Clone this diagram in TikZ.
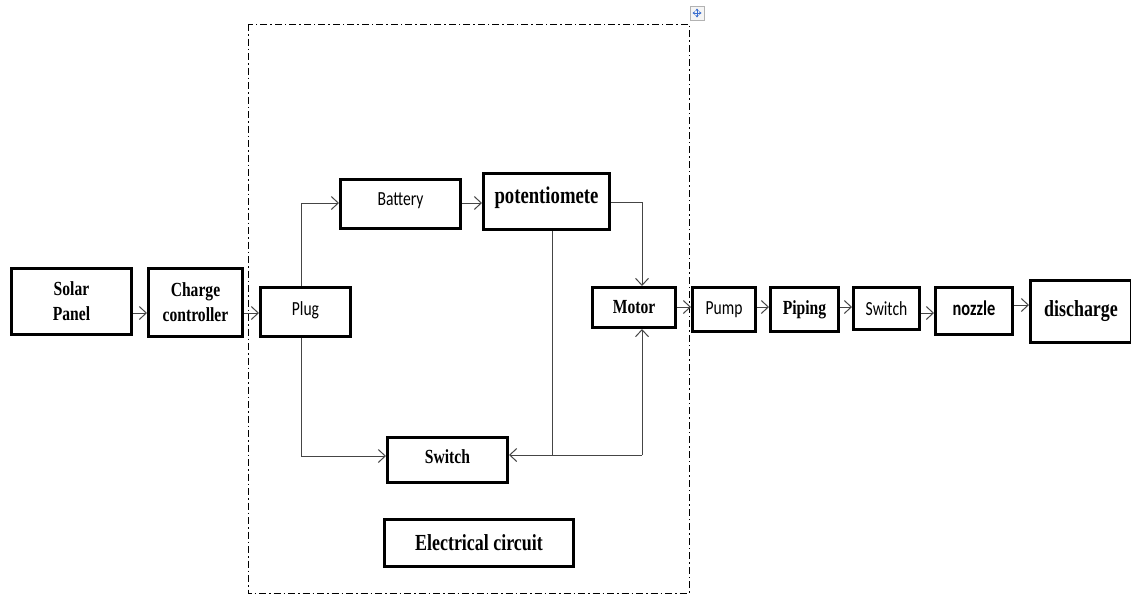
\documentclass[tikz,border=0pt]{standalone}
\usepackage{fontspec}
\usetikzlibrary{arrows.meta}
\newfontfamily\tnrfont[FakeStretch=0.78]{Liberation Serif}
\newfontfamily\calfont[FakeStretch=0.78]{Carlito}
\definecolor{linegray}{HTML}{454545}
\definecolor{iconblue}{HTML}{3B6FD0}
\tikzset{
  blk/.style={draw=black, line width=3pt, inner sep=0pt, align=center, fill=white},
  bline/.style={text height=0pt, text depth=0pt},
  serifb/.style={font=\tnrfont\bfseries\fontsize{20}{25}\selectfont},
  sansr/.style={font=\calfont\fontsize{20}{24}\selectfont},
  conn/.style={draw=linegray, line width=1pt, -{Straight Barb[length=7pt,width=13pt,line width=1pt]}},
  wire/.style={draw=linegray, line width=1pt},
  frame/.style={draw=black, line width=1pt, dash pattern=on 7pt off 3pt on 1.5pt off 3pt}
}
\begin{document}
\begin{tikzpicture}[x=1pt,y=-1pt]
\useasboundingbox (0,0) rectangle (1131,600);
% dashed frame
\draw[frame] (248,24) rectangle (689,593);
% move icon
\draw[gray!60, fill=gray!8, line width=0.6pt] (690,6) rectangle (704,20);
\draw[iconblue, line width=0.9pt, {Stealth[length=2.5pt,width=3.5pt]}-{Stealth[length=2.5pt,width=3.5pt]}] (692.5,13) -- (701.5,13);
\draw[iconblue, line width=0.9pt, {Stealth[length=2.5pt,width=3.5pt]}-{Stealth[length=2.5pt,width=3.5pt]}] (697,8.5) -- (697,17.5);
% blocks
\node[blk, serifb, minimum width=120pt, minimum height=66pt] (solar) at (71.5,301.5) {Solar\\Panel};
\node[blk, serifb, minimum width=94pt, minimum height=68pt] (charge) at (195.5,302.5) {Charge\\controller};
\node[blk, sansr, bline, minimum width=90pt, minimum height=49pt] (plug) at (305.5,312) {\raisebox{-3.5pt}{Plug}};
\node[blk, sansr, bline, minimum width=120pt, minimum height=49pt] (battery) at (400.5,204) {\raisebox{-1pt}{Battery}};
\node[blk, bline, font=\tnrfont\bfseries\fontsize{24}{28}\selectfont, minimum width=126pt, minimum height=56pt] (pot) at (546.5,201.5) {\raisebox{-1.5pt}{potentiomete}};
\node[blk, serifb, minimum width=83pt, minimum height=40pt] (motor) at (634,307.5) {Motor};
\node[blk, serifb, bline, minimum width=120pt, minimum height=45pt] (swb) at (447.5,460) {\raisebox{-3.3pt}{Switch}};
\node[blk, font=\tnrfont\bfseries\fontsize{23}{27}\selectfont, minimum width=189pt, minimum height=47pt] (elec) at (479,543) {Electrical circuit};
\node[blk, sansr, minimum width=63pt, minimum height=44pt] (pump) at (724,309.5) {Pump};
\node[blk, serifb, minimum width=68pt, minimum height=44pt] (piping) at (804.5,309.5) {Piping};
\node[blk, sansr, minimum width=66pt, minimum height=42pt] (swr) at (886.5,308.5) {Switch};
\node[blk, bline, font=\calfont\bfseries\fontsize{21}{25}\selectfont, minimum width=77pt, minimum height=47pt] (nozzle) at (974,311) {\raisebox{-4pt}{nozzle}};
\node[blk, font=\tnrfont\bfseries\fontsize{23}{27}\selectfont, minimum width=101pt, minimum height=62pt] (dis) at (1081,311.5) {discharge};
% junction coordinates
\coordinate (j1) at (552,455);
\coordinate (j2) at (642,455);
% connectors
\draw[conn] (solar.east |- 0,313) -- (charge.west |- 0,313);
\draw[conn] (charge.east |- 0,313) -- (plug.west |- 0,313);
\draw[conn] ([xshift=-4.5pt]plug.north) |- (battery.west |- 0,203);
\draw[conn] (battery.east |- 0,203) -- (pot.west |- 0,203);
\draw[conn] (pot.east |- 0,202) -| ([xshift=8pt]motor.north);
\draw[wire] (pot.south -| j1) -- (j1) -- (j2);
\draw[conn] (j2) -- ([xshift=8pt]motor.south);
\draw[conn] (j2) -- (swb.east |- j2);
\draw[conn] ([xshift=-4.5pt]plug.south) |- (swb.west |- 0,456);
\draw[conn] (motor.east |- 0,307) -- (pump.west |- 0,307);
\draw[conn] (pump.east |- 0,307) -- (piping.west |- 0,307);
\draw[conn] (piping.east |- 0,307) -- (swr.west |- 0,307);
\draw[conn] (swr.east |- 0,313) -- (nozzle.west |- 0,313);
\draw[conn] (nozzle.east |- 0,305) -- (dis.west |- 0,305);
\end{tikzpicture}
\end{document}
